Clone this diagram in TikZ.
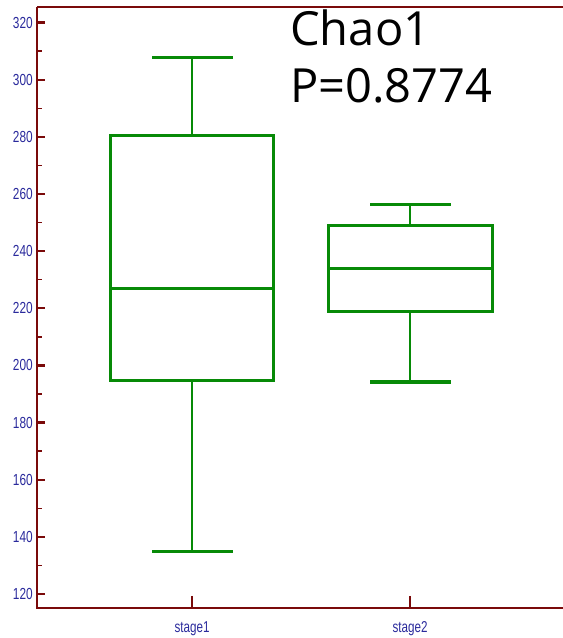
\documentclass[tikz,border=0pt]{standalone}
\usepackage{fontspec}
\usepackage{tikz}
\usetikzlibrary{positioning}
\newfontfamily\titlefont{Open Sans}
\newfontfamily\narrowfont[FakeStretch=0.74]{Liberation Sans}
\definecolor{AxisRed}{HTML}{7A0A0A}
\definecolor{TickBlue}{HTML}{2A2A9C}
\definecolor{BoxGreen}{HTML}{078A07}
\tikzset{
  frame/.style={draw=AxisRed, line width=1.6pt},
  major/.style={draw=AxisRed, line width=1.8pt},
  minor/.style={draw=AxisRed, line width=1.0pt},
  ticklabel/.style={color=TickBlue, font=\narrowfont\fontsize{12}{14}\selectfont, inner sep=0pt},
  boxline/.style={draw=BoxGreen, line width=2.4pt},
  whisker/.style={draw=BoxGreen, line width=1.6pt},
  titletext/.style={color=black, font=\titlefont\fontsize{35.3}{40}\selectfont, inner sep=0pt},
}
\begin{document}
\begin{tikzpicture}[x=0.75pt, y=0.75pt]
  \useasboundingbox (0,0) rectangle (563,638);
  % frame
  \draw[frame, line width=2pt] (37,631) -- (563,631);
  \draw[frame] (37,631) -- (37,30);
  \draw[frame, line width=2.2pt] (36,30) -- (563,30);

  % data scope: x in px, y in Chao1 values
  \begin{scope}[y=2.142857pt, yshift=-224.14pt]
    \foreach \v in {120,140,...,320} {
      \draw[major] (37,\v) -- (45,\v);
      \node[ticklabel, anchor=east] (t\v) at (33,\v) {\v};
    }
    \foreach \v in {130,150,...,310}
      \draw[minor] (37,\v) -- (41.5,\v);

    % stage1
    \draw[whisker] (192,280.4) -- (192,307.7);
    \draw[whisker] (192,194.7) -- (192,134.9);
    \draw[boxline] (152,307.7) -- (233,307.7);
    \draw[boxline] (152,134.9) -- (233,134.9);
    \draw[boxline] (110.7,194.7) rectangle (273.7,280.4);
    \draw[boxline] (110.7,227.0) -- (273.7,227.0);

    % stage2
    \draw[whisker] (410,248.9) -- (410,256.3);
    \draw[whisker] (410,218.8) -- (410,194.2);
    \draw[boxline] (370,256.3) -- (451,256.3);
    \draw[boxline] (370,194.2) -- (451,194.2);
    \draw[boxline] (328.3,218.8) rectangle (492.3,248.9);
    \draw[boxline] (328.3,234.0) -- (492.3,234.0);
  \end{scope}

  % x ticks
  \draw[minor, line width=1.2pt] (192,42) -- (192,30);
  \draw[minor, line width=1.2pt] (410,42) -- (410,30);
  \node[ticklabel, font=\narrowfont\fontsize{11.8}{13}\selectfont, anchor=base] (s1) at (192,6) {stage1};
  \node[ticklabel, font=\narrowfont\fontsize{11.8}{13}\selectfont, anchor=base] (s2) at (410,6) {stage2};

  % title
  \node[titletext, anchor=base west] (name) at (290,592) {Chao1};
  \node[titletext, anchor=base west] (pval) at (290,535) {P=0.8774};
\end{tikzpicture}
\end{document}
